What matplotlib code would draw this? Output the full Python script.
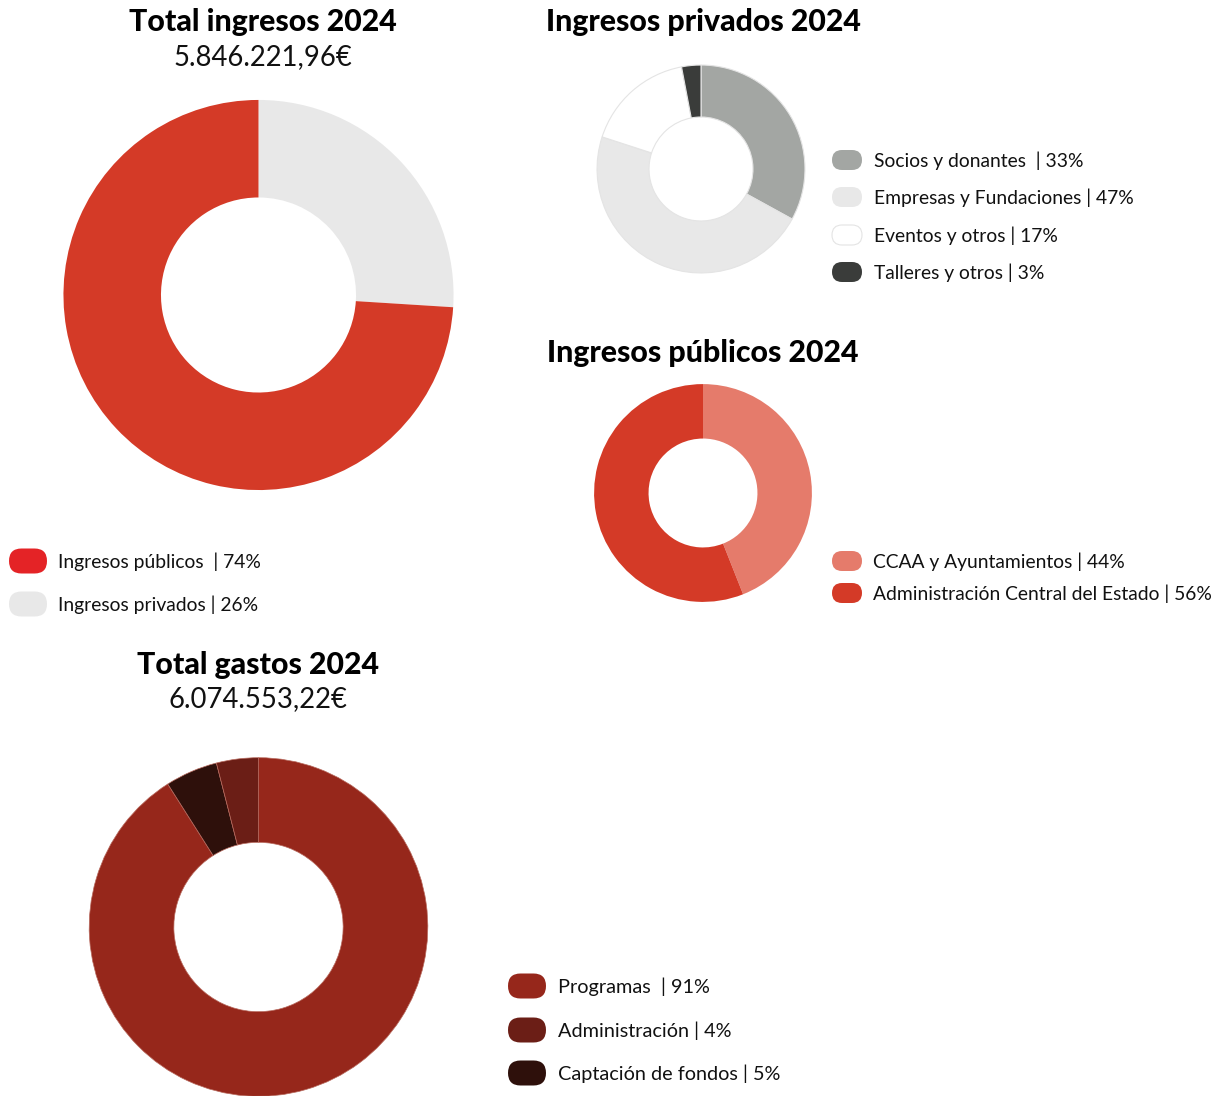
import matplotlib
matplotlib.use("Agg")
import matplotlib.pyplot as plt
from matplotlib.patches import FancyBboxPatch

plt.rcParams['font.family'] = ['Lato', 'DejaVu Sans']

W, H = 1222, 1096

# ---------------- data ----------------
total_labels = ["Ingresos públicos  | 74%", "Ingresos privados | 26%"]
total_values = [74, 26]
total_colors = ["#D43A27", "#E8E8E8"]
total_legend_colors = ["#E42326", "#E8E8E8"]

priv_labels = ["Socios y donantes  | 33%", "Empresas y Fundaciones | 47%",
               "Eventos y otros | 17%", "Talleres y otros | 3%"]
priv_values = [33, 47, 17, 3]
priv_colors = ["#A3A6A3", "#E8E8E8", "#FFFFFF", "#3A3C3A"]

pub_labels = ["CCAA y Ayuntamientos | 44%", "Administración Central del Estado | 56%"]
pub_values = [44, 56]
pub_colors = ["#E57B6B", "#D43A27"]

gastos_labels = ["Programas  | 91%", "Administración | 4%", "Captación de fondos | 5%"]
gastos_values = [91, 4, 5]
gastos_colors = ["#96271B", "#6B1E16", "#2E100B"]
# clockwise order from the top in the ring
gastos_ring_order = [0, 2, 1]

fig = plt.figure(figsize=(W / 100, H / 100), dpi=100)
fig.patch.set_facecolor("white")


def donut(cx, cy, r, values, colors, edge=None, lw=0):
    ax = fig.add_axes([(cx - r) / W, (H - cy - r) / H, 2 * r / W, 2 * r / H])
    ax.pie(values, colors=colors, startangle=90, counterclock=False, radius=1,
           wedgeprops=dict(width=0.5, edgecolor=edge if edge else 'none', linewidth=lw))
    ax.set_xlim(-1.01, 1.01)
    ax.set_ylim(-1.01, 1.01)
    ax.set_aspect('equal')
    ax.axis('off')
    return ax


# Total ingresos: clockwise from top privados then públicos
donut(258.5, 295, 197, [total_values[1], total_values[0]],
      [total_colors[1], total_colors[0]])
donut(701, 169, 105, priv_values, priv_colors, edge="#E4E4E4", lw=0.8)
donut(703, 493, 110, pub_values, pub_colors)
donut(258.5, 927, 171, [gastos_values[i] for i in gastos_ring_order],
      [gastos_colors[i] for i in gastos_ring_order], edge="#B86A5E", lw=0.5)

# overlay axes in pixel coordinates
ov = fig.add_axes([0, 0, 1, 1], zorder=10)
ov.set_xlim(0, W)
ov.set_ylim(H, 0)
ov.axis('off')
ov.patch.set_alpha(0)

TXT = "#111111"


def title(x, y, s, size=21.8):
    ov.text(x, y, s, ha='center', va='center', fontsize=size, fontweight='black', color='black')


def sub(x, y, s, size=19.8):
    ov.text(x, y, s, ha='center', va='center', fontsize=size, color=TXT)


title(263, 22, "Total ingresos 2024")
sub(263, 57, "5.846.221,96€")
title(703, 22, "Ingresos privados 2024")
title(703, 353, "Ingresos públicos 2024")
title(258, 665, "Total gastos 2024")
sub(258, 699, "6.074.553,22€")


def legend(x0, ys, w, h, labels, colors, tx, edge=None, size=13.9):
    for y, lab, c in zip(ys, labels, colors):
        p = FancyBboxPatch((x0, y - h / 2), w, h,
                           boxstyle=f"round,pad=0,rounding_size={h / 2}",
                           facecolor=c, edgecolor=edge if (edge and c.upper() == "#FFFFFF") else 'none',
                           linewidth=0.8)
        ov.add_patch(p)
        ov.text(tx, y + 1, lab, ha='left', va='center', fontsize=size, color=TXT)


legend(9, [561, 604], 38, 25, total_labels, total_legend_colors, 58)
legend(832, [160, 197, 235, 272], 30, 20, priv_labels, priv_colors, 874, edge="#E4E4E4")
legend(832, [561, 593], 30, 20, pub_labels, pub_colors, 873)
legend(508, [986, 1030, 1073], 38, 25, gastos_labels, gastos_colors, 558, size=14.3)

fig.savefig("out.png", dpi=100)
